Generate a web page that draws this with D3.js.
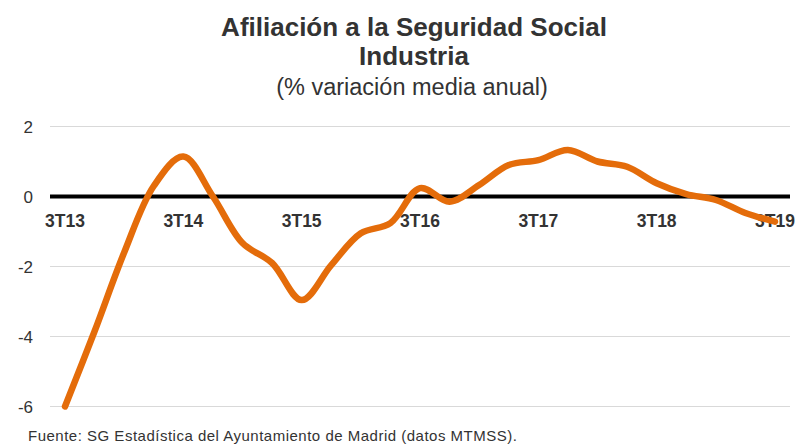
<!DOCTYPE html>
<html>
<head>
<meta charset="utf-8">
<script src="https://cdn.jsdelivr.net/npm/d3@7"></script>
<style>
  body { margin: 0; background: #fff; }
  text { font-family: "Liberation Sans", Arial, sans-serif; fill: #333; }
</style>
</head>
<body>
<div id="chart"></div>
<script>
// quarters 3T13 .. 3T19
var quarters = ["3T13","4T13","1T14","2T14","3T14","4T14","1T15","2T15","3T15","4T15","1T16","2T16",
  "3T16","4T16","1T17","2T17","3T17","4T17","1T18","2T18","3T18","4T18","1T19","2T19","3T19"];
var values = [-6.0, -3.85, -1.6, 0.3, 1.14, 0.0, -1.33, -1.9, -2.96, -1.96, -1.05, -0.76,
  0.24, -0.15, 0.33, 0.9, 1.04, 1.33, 1.0, 0.85, 0.38, 0.07, -0.1, -0.47, -0.72];
var tickLabels = ["3T13","3T14","3T15","3T16","3T17","3T18","3T19"];
var yTicks = [2, 0, -2, -4, -6];

var width = 798, height = 444;
var margin = {left: 50, right: 8, top: 126, bottom: 37};

var svg = d3.select("#chart").append("svg")
  .attr("width", width).attr("height", height);

var xScale = d3.scalePoint()
  .domain(quarters)
  .range([65, 775]);

var yScale = d3.scaleLinear()
  .domain([-6, 2])
  .range([406.5, 126.5]);

// gridlines
svg.append("g").selectAll("line")
  .data(yTicks)
  .enter().append("line")
  .attr("x1", margin.left).attr("x2", 790)
  .attr("y1", d => yScale(d)).attr("y2", d => yScale(d))
  .style("stroke", "#d9d9d9").style("stroke-width", 1);

// y labels
svg.append("g").selectAll("text")
  .data(yTicks)
  .enter().append("text")
  .attr("x", 33).attr("y", d => yScale(d) + 6)
  .attr("text-anchor", "end")
  .style("font-size", "17px")
  .text(d => d);

// zero line
svg.append("line")
  .attr("x1", margin.left).attr("x2", 790)
  .attr("y1", yScale(0)).attr("y2", yScale(0))
  .style("stroke", "#000").style("stroke-width", 4);

// x labels
svg.append("g").selectAll("text")
  .data(tickLabels)
  .enter().append("text")
  .attr("x", d => xScale(d)).attr("y", yScale(0) + 30)
  .attr("text-anchor", "middle")
  .style("font-size", "17.5px").style("font-weight", "bold")
  .text(d => d);

var line = d3.line()
  .x((d, i) => xScale(quarters[i]))
  .y(d => yScale(d))
  .curve(d3.curveCatmullRom);

svg.append("path")
  .datum(values)
  .attr("d", line)
  .style("fill", "none")
  .style("stroke", "#e46c0a")
  .style("stroke-width", 6.5)
  .style("stroke-linecap", "round")
  .style("stroke-linejoin", "round");

// titles
svg.append("text").attr("x", 414).attr("y", 36).attr("text-anchor", "middle")
  .style("font-size", "26px").style("font-weight", "bold")
  .text("Afiliación a la Seguridad Social");
svg.append("text").attr("x", 414).attr("y", 65).attr("text-anchor", "middle")
  .style("font-size", "26px").style("font-weight", "bold")
  .text("Industria");
svg.append("text").attr("x", 412).attr("y", 95).attr("text-anchor", "middle")
  .style("font-size", "23.5px")
  .text("(% variación media anual)");

svg.append("text").attr("x", 28).attr("y", 441)
  .style("font-size", "15px").style("letter-spacing", "0.5px")
  .text("Fuente: SG Estadística del Ayuntamiento de Madrid (datos MTMSS).");
</script>
</body>
</html>
